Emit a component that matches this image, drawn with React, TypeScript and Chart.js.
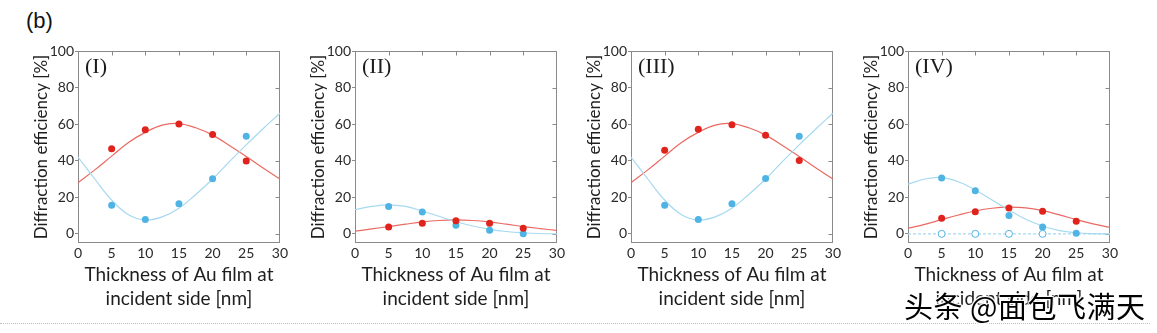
import React, { useEffect, useRef } from 'react';
import { Chart, registerables } from 'chart.js';

Chart.register(...registerables);

// ---------- data ----------
const xTickValues = [0, 5, 10, 15, 20, 25, 30];
const yTickValues = [0, 20, 40, 60, 80, 100];
const panelLabels = ['(I)', '(II)', '(III)', '(IV)'];
const xTitle = ['Thickness of Au film at', 'incident side [nm]'];
const yTitle = 'Diffraction efficiency [%]';

const pointX = [5, 10, 15, 20, 25];
const curveX = [0, 2.5, 5, 7.5, 10, 12.5, 15, 17.5, 20, 22.5, 25, 27.5, 30];

// Panel (I)
const p1RedPoints = [46.5, 57, 60.1, 54.3, 39.9];
const p1BluePoints = [15.6, 7.9, 16.5, 30.2, 53.4];
const p1RedCurve = [28, 35, 42.5, 50, 55.5, 59.5, 60.3, 58, 54, 48.3, 42.3, 36, 30];
const p1BlueCurve = [42, 30, 18.5, 10.5, 7.6, 9.3, 14, 21.5, 30, 39.5, 48.7, 57.5, 66];

// Panel (II)
const p2RedPoints = [3.8, 5.8, 7.1, 5.8, 3.1];
const p2BluePoints = [15, 12, 4.7, 2, 0];
const p2RedCurve = [1.5, 2.7, 4, 5.3, 6.5, 7.3, 7.6, 7.3, 6.5, 5.3, 4, 2.9, 1.9];
const p2BlueCurve = [13.2, 15, 15.9, 15, 12.5, 9.6, 6.6, 4.3, 2.5, 1.3, 0.6, 0.2, 0];

// Panel (III)
const p3RedPoints = [45.7, 57.2, 59.7, 53.9, 40.1];
const p3BluePoints = [15.6, 7.8, 16.5, 30.3, 53.4];
const p3RedCurve = [28, 35, 42.5, 50, 55.5, 59.5, 60.3, 58, 54, 48.3, 42.3, 36, 30];
const p3BlueCurve = [42, 30, 18.5, 10.5, 7.6, 9.3, 14, 21.5, 30, 39.5, 48.7, 57.5, 66];

// Panel (IV)
const p4RedPoints = [8.5, 12.1, 14.1, 12.3, 6.9];
const p4BluePoints = [30.5, 23.6, 10, 3.8, 0.3];
const p4RedCurve = [3.1, 5.2, 7.8, 10.3, 12.5, 14, 14.6, 14.2, 12.7, 10.4, 7.8, 5.5, 3.5];
const p4BlueCurve = [27.2, 30, 30.8, 28.5, 24, 18.5, 13, 8, 4.3, 1.8, 0.6, 0.1, 0];
const p4HollowX = [5, 10, 15, 20];
const p4HollowY = [0, 0, 0, 0];
const p4ZeroLineX = [0, 30];
const p4ZeroLineY = [0, 0];

const panelData = [
  { red: p1RedPoints, blue: p1BluePoints, redCurve: p1RedCurve, blueCurve: p1BlueCurve },
  { red: p2RedPoints, blue: p2BluePoints, redCurve: p2RedCurve, blueCurve: p2BlueCurve },
  { red: p3RedPoints, blue: p3BluePoints, redCurve: p3RedCurve, blueCurve: p3BlueCurve },
  { red: p4RedPoints, blue: p4BluePoints, redCurve: p4RedCurve, blueCurve: p4BlueCurve, hollow: true },
];

// ---------- layout / style ----------
const PLOT_LEFTS = [78, 355, 631, 908];
const Y_AXIS_W = 70;
const PAD_RIGHT = 10;
const PLOT_W = 202;
const CANVAS_W = Y_AXIS_W + PLOT_W + PAD_RIGHT;
const CANVAS_H = 333;
const TITLE_PAD = [23, 23, 23, 23];

const RED_PT = '#e1231e';
const RED_LINE = '#ea6a63';
const BLUE_PT = '#4fb4e4';
const BLUE_LINE = '#a6d9f0';
const FRAME = '#8a8a8a';
const FONT = "Lato, 'Open Sans', sans-serif";

const zip = (xs: number[], ys: number[]) => xs.map((x, i) => ({ x, y: ys[i] }));

const framePlugin = {
  id: 'frame',
  beforeDatasetsDraw(chart: any, _args: any, opts: any) {
    const { ctx, chartArea: a, scales } = chart;
    ctx.save();
    ctx.strokeStyle = FRAME;
    ctx.lineWidth = 1;
    const l = Math.round(a.left) + 0.5;
    const r = Math.round(a.right) - 0.5;
    const t = Math.round(a.top) + 0.5;
    const b = Math.round(a.bottom) - 0.5;
    ctx.strokeRect(l, t, r - l, b - t);
    ctx.beginPath();
    xTickValues.slice(1, -1).forEach((v) => {
      const x = Math.round(scales.x.getPixelForValue(v)) + 0.5;
      ctx.moveTo(x, t);
      ctx.lineTo(x, t + 4);
    });
    yTickValues.slice(0, -1).forEach((v) => {
      const y = Math.round(scales.y.getPixelForValue(v)) + 0.5;
      ctx.moveTo(r, y);
      ctx.lineTo(r - 4, y);
    });
    ctx.stroke();
    ctx.font = "22px 'Liberation Serif', 'DejaVu Serif', serif";
    ctx.fillStyle = '#1c1c1c';
    ctx.textBaseline = 'middle';
    ctx.textAlign = 'left';
    ctx.fillText(opts.label, a.left + 7, a.top + 16);
    ctx.restore();
  },
};

function makeConfig(i: number): any {
  const d = panelData[i];
  const datasets: any[] = [
    {
      data: zip(curveX, d.redCurve), showLine: true, borderColor: RED_LINE, borderWidth: 1.2,
      pointRadius: 0, tension: 0.4, fill: false, order: 4,
    },
    {
      data: zip(curveX, d.blueCurve), showLine: true, borderColor: BLUE_LINE, borderWidth: 1.2,
      pointRadius: 0, tension: 0.4, fill: false, order: 3,
    },
  ];
  if (d.hollow) {
    datasets.push({
      data: zip(p4ZeroLineX, p4ZeroLineY), showLine: true, borderColor: BLUE_LINE, borderWidth: 1.2,
      borderDash: [3, 2], pointRadius: 0, order: 5,
    });
    datasets.push({
      data: zip(p4HollowX, p4HollowY), showLine: false, pointRadius: 3.5, pointBorderWidth: 1,
      pointBorderColor: BLUE_PT, pointBackgroundColor: '#ffffff', order: 2,
    });
  }
  datasets.push({
    data: zip(pointX, d.blue), showLine: false, pointRadius: 3.5, pointBorderWidth: 0,
    pointBackgroundColor: BLUE_PT, order: 1,
  });
  datasets.push({
    data: zip(pointX, d.red), showLine: false, pointRadius: 3.5, pointBorderWidth: 0,
    pointBackgroundColor: RED_PT, order: 0,
  });

  return {
    type: 'scatter',
    data: { datasets },
    plugins: [framePlugin],
    options: {
      animation: false,
      responsive: false,
      maintainAspectRatio: false,
      events: [],
      layout: { padding: { left: 0, right: PAD_RIGHT, top: 51, bottom: 20 } },
      plugins: {
        legend: { display: false },
        tooltip: { enabled: false },
        frame: { label: panelLabels[i] },
      },
      scales: {
        x: {
          type: 'linear',
          min: 0,
          max: 30,
          afterBuildTicks: (s: any) => { s.ticks = xTickValues.map((v) => ({ value: v })); },
          afterFit: (s: any) => { s.height = 70; },
          grid: { display: false, drawTicks: false, tickLength: 0 },
          border: { display: false },
          ticks: { padding: 2, color: '#2a2a2a', font: { family: FONT, size: 14 }, maxRotation: 0 },
          title: {
            display: true, text: xTitle, color: '#1e1e1e',
            font: { family: FONT, size: 19, lineHeight: 1.22 }, padding: { top: 0, bottom: 3 },
          },
        },
        y: {
          type: 'linear',
          min: -5,
          max: 100,
          afterBuildTicks: (s: any) => { s.ticks = yTickValues.map((v) => ({ value: v })); },
          afterFit: (s: any) => { s.width = Y_AXIS_W; },
          grid: { drawOnChartArea: false, drawTicks: true, tickLength: 3, color: FRAME },
          border: { display: false },
          ticks: { padding: 1, color: '#2a2a2a', font: { family: FONT, size: 14 } },
          title: {
            display: true, text: yTitle, color: '#1e1e1e',
            font: { family: FONT, size: 17, lineHeight: 1.2 }, padding: { top: TITLE_PAD[i], bottom: 0 },
          },
        },
      },
    },
  };
}

export default function App() {
  const refs = [useRef<HTMLCanvasElement>(null), useRef<HTMLCanvasElement>(null), useRef<HTMLCanvasElement>(null), useRef<HTMLCanvasElement>(null)];

  useEffect(() => {
    const charts = refs.map((r, i) => new Chart(r.current as HTMLCanvasElement, makeConfig(i)));
    return () => charts.forEach((c) => c.destroy());
  }, []);

  return (
    <div style={{ position: 'fixed', left: 0, top: 0, width: 1157, height: 333, background: '#fff', overflow: 'hidden' }}>
      <div style={{ position: 'absolute', left: 26, top: 8, font: "22px 'Liberation Sans', Arial, sans-serif", color: '#111' }}>(b)</div>
      {refs.map((r, i) => (
        <canvas
          key={i}
          ref={r}
          width={CANVAS_W}
          height={CANVAS_H}
          style={{ position: 'absolute', left: PLOT_LEFTS[i] - Y_AXIS_W, top: 0, width: CANVAS_W, height: CANVAS_H }}
        />
      ))}
      <div style={{ position: 'absolute', left: 0, top: 323, width: 1150, borderTop: '1px dotted #bdbdbd' }} />
      <div
        style={{
          position: 'absolute', left: 904, top: 286, fontSize: 29, lineHeight: '38px', letterSpacing: 0.5,
          fontFamily: "'Noto Sans CJK SC', sans-serif", color: '#000', whiteSpace: 'nowrap',
          textShadow: '0 0 2px #fff, 0 0 2px #fff, 1px 1px 1px #fff, -1px -1px 1px #fff, 1px -1px 1px #fff, -1px 1px 1px #fff',
        }}
      >
        头条 @面包飞满天
      </div>
    </div>
  );
}
